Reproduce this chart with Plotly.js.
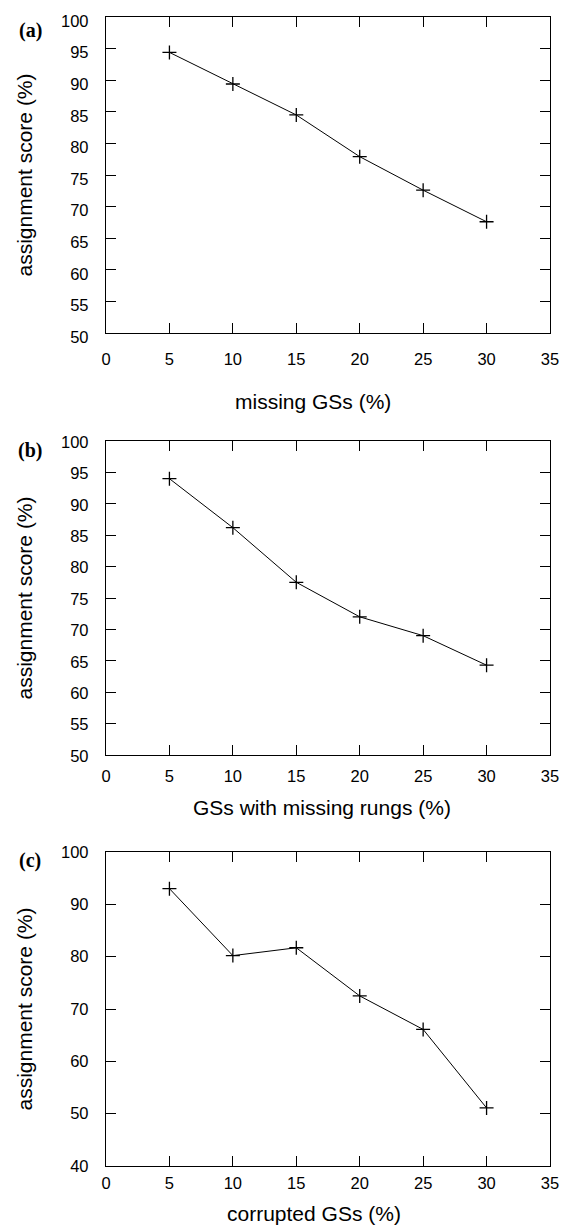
<!DOCTYPE html>
<html>
<head>
<meta charset="utf-8">
<script src="https://cdn.plot.ly/plotly-3.0.1.min.js"></script>
<style>html,body{margin:0;padding:0;background:#fff;}#chart{width:561px;height:1227px;}</style>
</head>
<body>
<div id="chart"></div>
<script>
// Data
const xValues = [5, 10, 15, 20, 25, 30];
const scoreMissingGSs = [94.4, 89.4, 84.5, 77.9, 72.6, 67.6];
const scoreMissingRungs = [94.0, 86.2, 77.5, 72.0, 69.0, 64.3];
const scoreCorruptedGSs = [93.0, 80.2, 81.7, 72.5, 66.1, 51.1];
const xTitles = ["missing GSs (%)", "GSs with missing rungs (%)", "corrupted GSs (%)"];
const yTitle = "assignment score (%)";
const panelLabels = ["(a)", "(b)", "(c)"];

const W = 561, H = 1227;
const M = {l: 106, r: 10.5, t: 17, b: 61};
const PW = W - M.l - M.r, PH = H - M.t - M.b;
const px = v => (v - M.l) / PW;
const py = v => 1 - (v - M.t) / PH;

const tickFont = {family: "Liberation Sans, Arial, sans-serif", size: 16.5, color: "#000"};
const titleFont = {family: "Liberation Sans, Arial, sans-serif", size: 21, color: "#000"};

function trace(y, xa, ya) {
  return {
    x: xValues, y: y, xaxis: xa, yaxis: ya, type: "scatter", mode: "lines+markers",
    line: {color: "#000", width: 1},
    marker: {symbol: "cross-thin-open", size: 10, color: "#000", line: {color: "#000", width: 1.3}},
    showlegend: false, hoverinfo: "x+y"
  };
}

function xAxis(anchor, standoff) {
  return {
    anchor: anchor, domain: [0, 1], range: [0, 35], tick0: 0, dtick: 5,
    ticks: "inside", ticklen: 10, tickcolor: "#000", tickwidth: 1,
    showline: true, linecolor: "#000", linewidth: 1.2, mirror: "ticks",
    showgrid: false, zeroline: false, tickfont: tickFont, ticklabelstandoff: standoff,
    ticklabeloverflow: "allow", automargin: false
  };
}
function yAxis(anchor, domain, range, dtick, shift) {
  return {
    anchor: anchor, domain: domain, range: range, tick0: range[0], dtick: dtick,
    ticks: "inside", ticklen: 10, tickcolor: "#000", tickwidth: 1,
    showline: true, linecolor: "#000", linewidth: 1.2, mirror: "ticks",
    showgrid: false, zeroline: false, tickfont: tickFont, ticklabelstandoff: 13,
    ticklabelshift: shift, ticklabeloverflow: "allow",
    title: {text: yTitle, font: titleFont, standoff: 22}, automargin: false
  };
}

const data = [
  trace(scoreMissingGSs, "x", "y"),
  trace(scoreMissingRungs, "x2", "y2"),
  trace(scoreCorruptedGSs, "x3", "y3")
];

const labelPos = [[30, 30.3], [30, 450.3], [30, 860]];
const xTitlePos = [[313, 401], [322, 807.5], [314, 1213]];

const annotations = [];
panelLabels.forEach((t, i) => annotations.push({
  text: "<b>" + t + "</b>", xref: "paper", yref: "paper",
  x: px(labelPos[i][0]), y: py(labelPos[i][1]),
  xanchor: "center", yanchor: "middle", showarrow: false,
  font: {family: "Liberation Serif, Times New Roman, serif", size: 20, color: "#000"}
}));
xTitles.forEach((t, i) => annotations.push({
  text: t, xref: "paper", yref: "paper",
  x: px(xTitlePos[i][0]), y: py(xTitlePos[i][1]),
  xanchor: "center", yanchor: "middle", showarrow: false, font: titleFont
}));

const layout = {
  width: W, height: H,
  margin: M,
  paper_bgcolor: "#fff", plot_bgcolor: "#fff",
  xaxis: xAxis("y", 11),
  xaxis2: xAxis("y2", 6),
  xaxis3: xAxis("y3", 2),
  yaxis: yAxis("x", [py(333), 1.0], [50, 100], 5, 4),
  yaxis2: yAxis("x2", [py(755), py(441)], [50, 100], 5, 1),
  yaxis3: yAxis("x3", [0, py(852)], [40, 100], 10, 0),
  annotations: annotations
};

Plotly.newPlot("chart", data, layout, {staticPlot: true, displayModeBar: false});
</script>
</body>
</html>
